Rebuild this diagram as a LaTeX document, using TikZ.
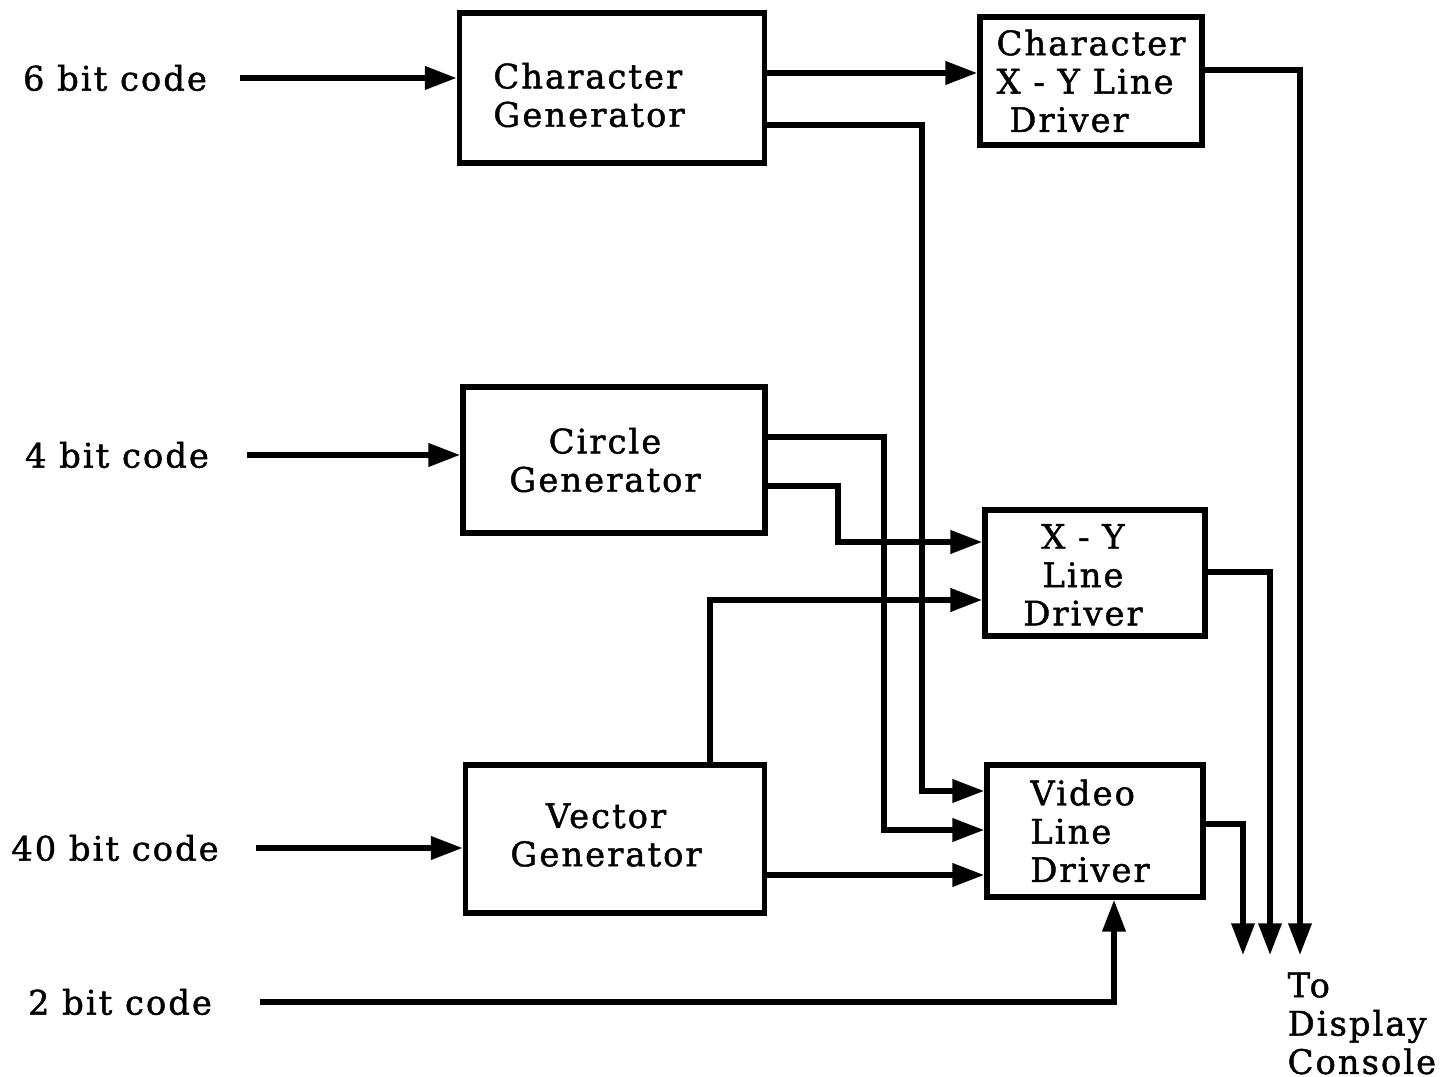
\documentclass[tikz,border=0pt]{standalone}
\usepackage{fontspec}
\setmainfont{DejaVu Serif}[LetterSpace=6,FakeBold=1.3]
\usetikzlibrary{arrows.meta}

\begin{document}
\begin{tikzpicture}[x=0.01cm,y=-0.01cm,line width=1.5pt,
  blk/.style={draw,line width=1.6pt,inner sep=0pt},
  lbl/.style={inner sep=0pt},
  flow/.style={-{Triangle[length=9pt,width=6.4pt]}}]
  \useasboundingbox (0,0) rectangle (1446,1077);
  \fontsize{9.6pt}{10.9pt}\selectfont
  % blocks
  \node[blk,minimum width=3.05cm,minimum height=1.5cm] (chgen) at (612,88) {};
  \node[blk,minimum width=2.22cm,minimum height=1.28cm] (chxy) at (1091,81) {};
  \node[blk,minimum width=3.02cm,minimum height=1.46cm] (cigen) at (614,460) {};
  \node[blk,minimum width=2.2cm,minimum height=1.26cm] (xyd) at (1095,573) {};
  \node[blk,minimum width=2.99cm,minimum height=1.48cm] (vegen) at (615,839) {};
  \node[blk,minimum width=2.16cm,minimum height=1.32cm] (vid) at (1095,831) {};
  % block texts
  \node[lbl,align=left] (chgent) at ([xshift=-0.23cm,yshift=-0.07cm]chgen.center) {Character\\Generator};
  \node[lbl,align=left] (chxyt) at ([yshift=0cm]chxy.center) {Character\\X - Y Line\\\ Driver};
  \node[lbl,align=center] (cigent) at ([xshift=-0.09cm]cigen.center) {Circle\\Generator};
  \node[lbl,align=center] (xydt) at ([xshift=-0.12cm,yshift=-0.02cm]xyd.center) {X - Y\\Line\\Driver};
  \node[lbl,align=center] (vegent) at ([xshift=-0.09cm,yshift=0.04cm]vegen.center) {Vector\\Generator};
  \node[lbl,align=left] (vidt) at ([xshift=-0.05cm]vid.center) {Video\\Line\\Driver};
  % inputs
  \node[lbl] (in6) at (115,78) {6 bit code};
  \node[lbl] (in4) at (117,455) {4 bit code};
  \node[lbl] (in40) at (115,848) {40 bit code};
  \node[lbl] (in2) at (120,1002) {2 bit code};
  \draw[flow] ([xshift=0.3cm]in6.east) -- (in6.east -| chgen.west);
  \draw[flow] ([xshift=0.35cm]in4.east) -- (in4.east -| cigen.west);
  \draw[flow] ([xshift=0.35cm]in40.east) -- (in40.east -| vegen.west);
  \draw[flow] ([xshift=0.45cm]in2.east) -| (vid.south -| 1114,0);
  % character generator
  \draw[flow] (chgen.east |- 0,73) -- (chxy.west |- 0,73);
  \draw[flow] (chgen.east |- 0,125) -| (922,791) -- (vid.west |- 0,791);
  % circle generator
  \draw[flow] (cigen.east |- 0,437) -| (884,830) -- (vid.west |- 0,830);
  \draw[flow] (cigen.east |- 0,486) -| (838,542) -- (xyd.west |- 0,542);
  % vector generator
  \draw[flow] (vegen.north -| 710,0) |- (xyd.west |- 0,600);
  \draw[flow] (vegen.east |- 0,875) -- (vid.west |- 0,875);
  % outputs
  \coordinate (o1) at (1300,955);
  \coordinate (o2) at (1270,955);
  \coordinate (o3) at (1243,955);
  \draw[flow] (chxy.east |- 0,70) -| (o1);
  \draw[flow] (xyd.east |- 0,572) -| (o2);
  \draw[flow] (vid.east |- 0,824) -| (o3);
  \node[lbl,anchor=north west,align=left] (cons) at (1285,970) {To\\Display\\Console};
\end{tikzpicture}
\end{document}
